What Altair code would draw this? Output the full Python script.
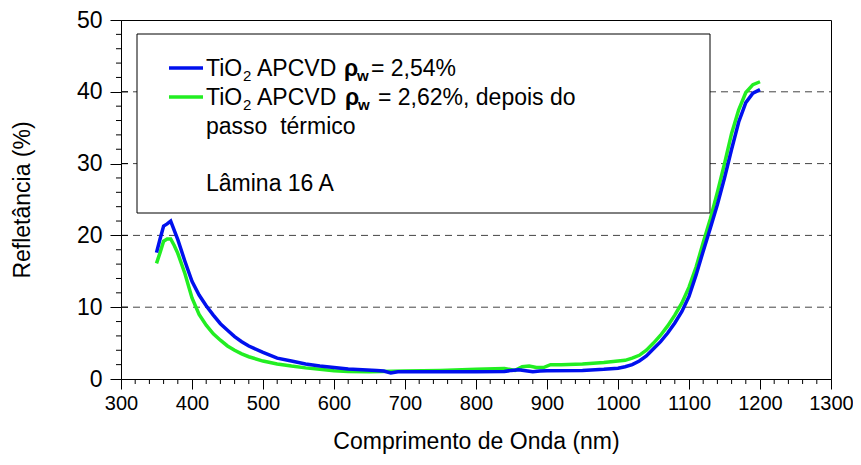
import altair as alt
import pandas as pd

# ---------------- data ----------------
wl_blue = [350, 355, 360, 365, 370, 380, 390, 400, 410, 420, 430, 440, 450, 460, 470, 480,
           500, 520, 540, 560, 580, 600, 620, 640, 660, 670, 680, 690, 700, 750, 800, 840,
           850, 860, 870, 880, 890, 900, 950, 980, 1000, 1010, 1020, 1030, 1040, 1050, 1060,
           1070, 1080, 1090, 1100, 1110, 1120, 1130, 1140, 1150, 1160, 1170, 1180, 1190, 1200]
r_blue = [17.6, 19.5, 21.3, 21.6, 22.0, 19.4, 16.4, 13.6, 11.7, 10.2, 8.9, 7.7, 6.8, 5.9, 5.2, 4.6,
          3.7, 2.9, 2.5, 2.1, 1.8, 1.6, 1.4, 1.3, 1.2, 1.1, 0.85, 1.0, 1.0, 1.0, 1.0, 1.05,
          1.2, 1.3, 1.15, 1.0, 1.1, 1.15, 1.2, 1.35, 1.5, 1.7, 2.0, 2.5, 3.2, 4.2, 5.2,
          6.4, 7.8, 9.4, 11.5, 14.5, 17.8, 21.0, 24.3, 28.0, 32.0, 35.8, 38.5, 39.8, 40.3]

wl_green = [350, 355, 360, 365, 370, 375, 380, 390, 400, 410, 420, 430, 440, 450, 460, 470,
            480, 500, 520, 540, 560, 580, 600, 620, 650, 700, 750, 800, 840, 850, 855, 865,
            875, 885, 895, 905, 920, 950, 980, 1000, 1010, 1020, 1030, 1040, 1050, 1060, 1070,
            1080, 1090, 1100, 1110, 1120, 1130, 1140, 1150, 1160, 1170, 1180, 1190, 1200]
r_green = [16.1, 17.6, 19.2, 19.5, 19.5, 18.6, 17.5, 14.7, 11.3, 9.0, 7.5, 6.3, 5.4, 4.6, 4.0, 3.5,
           3.1, 2.5, 2.1, 1.8, 1.55, 1.35, 1.15, 1.05, 1.0, 1.1, 1.2, 1.35, 1.45, 1.3, 1.2, 1.7,
           1.8, 1.6, 1.6, 2.0, 2.0, 2.1, 2.3, 2.5, 2.6, 2.9, 3.3, 4.0, 5.0, 6.1, 7.4,
           8.9, 10.6, 12.8, 15.6, 19.0, 22.3, 26.0, 30.0, 34.2, 37.5, 39.9, 41.0, 41.4]

x_ticks = [300, 400, 500, 600, 700, 800, 900, 1000, 1100, 1200, 1300]
y_ticks = [0, 10, 20, 30, 40, 50]
x_minor = [v for v in range(300, 1301, 20) if v % 100]
y_minor = [v for v in range(0, 51, 2) if v % 10]
y_inner = [10, 20, 30, 40]
grid_levels = [10, 20, 30, 40]

# ---------------- layout ----------------
FONT = "Liberation Sans"
W, H = 710, 359
OX, OY = 121, 20  # plot origin on the page

xs = alt.Scale(domain=[300, 1300], nice=False, zero=False)
ys = alt.Scale(domain=[0, 50], nice=False)

x_axis = alt.Axis(values=x_ticks, title="Comprimento de Onda (nm)", format="d",
                  tickSize=10, labelFontSize=20, titleFontSize=23, labelPadding=4,
                  titleY=69, titleBaseline="alphabetic", grid=False, labelFlush=False)
y_axis = alt.Axis(values=y_ticks, title="Refletância (%)", format="d",
                  tickSize=11, labelFontSize=23, titleFontSize=23, labelPadding=8,
                  titleAngle=270, titleX=-92, titleY=H / 2, titleAlign="center",
                  titleBaseline="alphabetic", grid=False)

one = pd.DataFrame({"a": [0]})

grid = alt.Chart(pd.DataFrame({"g": grid_levels})).mark_rule(
    color="#444444", strokeDash=[7, 5], strokeWidth=1
).encode(y=alt.Y("g:Q", scale=ys, axis=y_axis), x=alt.value(0), x2=alt.value(W))

box = alt.Chart(one).mark_rect(fill="white", stroke="black", strokeWidth=1).encode(
    x=alt.value(137 - OX), x2=alt.value(710 - OX), y=alt.value(34 - OY), y2=alt.value(213 - OY))

minor_x = alt.Chart(pd.DataFrame({"m": x_minor})).mark_rule(color="black", strokeWidth=1).encode(
    x=alt.X("m:Q", scale=xs, axis=x_axis), y=alt.value(H), y2=alt.value(H + 5))

minor_y = alt.Chart(pd.DataFrame({"m": y_minor})).mark_rule(color="black", strokeWidth=1).encode(
    y=alt.Y("m:Q", scale=ys, axis=y_axis), x=alt.value(-5), x2=alt.value(0))

inner_y = alt.Chart(pd.DataFrame({"m": y_inner})).mark_rule(color="black", strokeWidth=1).encode(
    y=alt.Y("m:Q", scale=ys, axis=y_axis), x=alt.value(0), x2=alt.value(7))

green = alt.Chart(pd.DataFrame({"wl": wl_green, "r": r_green})).mark_line(
    color="#22ee22", strokeWidth=3.5
).encode(x=alt.X("wl:Q", scale=xs, axis=x_axis), y=alt.Y("r:Q", scale=ys, axis=y_axis))

blue = alt.Chart(pd.DataFrame({"wl": wl_blue, "r": r_blue})).mark_line(
    color="#0010ee", strokeWidth=3.5
).encode(x=alt.X("wl:Q", scale=xs, axis=x_axis), y=alt.Y("r:Q", scale=ys, axis=y_axis))


def sample(color, y):
    return alt.Chart(one).mark_rule(color=color, strokeWidth=3.5).encode(
        x=alt.value(169 - OX), x2=alt.value(203 - OX), y=alt.value(y - OY))


def txt(s, x, y, size=23, bold=False):
    return alt.Chart(one).mark_text(
        text=s, align="left", baseline="alphabetic", font=FONT, fontSize=size,
        fontWeight="bold" if bold else "normal", color="black"
    ).encode(x=alt.value(x - OX), y=alt.value(y - OY))


b1, b2, b3, b4 = 76, 105, 134, 191
legend_items = [
    sample("#0010ee", 68), sample("#22ee22", 97),
    txt("TiO", 206, b1), txt("2", 243, b1 + 5, 15), txt("APCVD", 257, b1),
    txt("ρ", 344, b1, 23, True), txt("w", 357, b1 + 5, 15, True), txt("= 2,54%", 371, b1),
    txt("TiO", 206, b2), txt("2", 243, b2 + 5, 15), txt("APCVD", 257, b2),
    txt("ρ", 345, b2, 23, True), txt("w", 358, b2 + 5, 15, True),
    txt("= 2,62%, depois do", 378, b2),
    txt("passo\u00a0 térmico", 206, b3),
    txt("Lâmina 16 A", 206, b4),
]

chart = alt.layer(grid, box, minor_x, minor_y, inner_y, green, blue, *legend_items).properties(
    width=W, height=H, autosize=alt.AutoSizeParams(type="none"),
    padding={"left": OX - 8, "top": OY - 8, "right": 861 - 16 - (OX - 8) - W,
             "bottom": 465 - 16 - (OY - 8) - H}
).configure_view(stroke="black", strokeWidth=1).configure_axis(
    labelFont=FONT, titleFont=FONT, labelColor="black", titleColor="black",
    domainColor="black", tickColor="black", domainWidth=1, tickWidth=1,
    titleFontWeight="normal"
)

chart.save("out.html", embed_options={"renderer": "svg", "actions": False})
